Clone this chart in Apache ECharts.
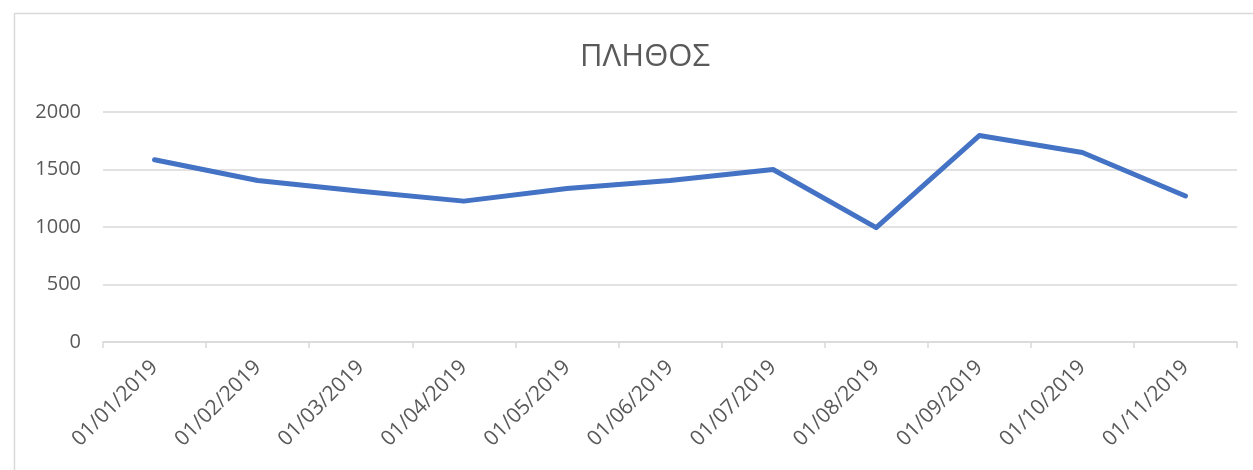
<!DOCTYPE html>
<html>
<head>
<meta charset="utf-8">
<script src="https://cdn.jsdelivr.net/npm/echarts@6/dist/echarts.min.js"></script>
<style>
  html, body { margin: 0; padding: 0; background: #fff; }
  #chart { width: 1253px; height: 470px; }
</style>
</head>
<body>
<div id="chart"></div>
<script>
'use strict';

var titleText = 'ΠΛΗΘΟΣ';
var dates = ['01/01/2019', '01/02/2019', '01/03/2019', '01/04/2019', '01/05/2019', '01/06/2019',
             '01/07/2019', '01/08/2019', '01/09/2019', '01/10/2019', '01/11/2019'];
var counts = [1585, 1405, 1310, 1225, 1335, 1405, 1500, 995, 1795, 1648, 1270];

var grey = '#595959';
var gridGrey = '#d9d9d9';

var myChart = echarts.init(document.getElementById('chart'));

var option = {
    animation: false,
    textStyle: { fontFamily: 'Open Sans' },
    // chart frame like excel
    graphic: [{
        type: 'rect',
        shape: { x: 14.5, y: 13.5, width: 1260, height: 480 },
        style: { fill: 'none', stroke: gridGrey, lineWidth: 1.5 },
        silent: true
    }],
    title: {
        text: titleText,
        left: 640,
        top: 37,
        textAlign: 'center',
        textStyle: { color: grey, fontSize: 31, fontWeight: 'normal', fontFamily: 'Open Sans' }
    },
    grid: { left: 103, right: 16, top: 112, bottom: 128, containLabel: false },
    xAxis: {
        type: 'category',
        data: dates,
        boundaryGap: true,
        axisLine: { lineStyle: { color: gridGrey, width: 1.5 } },
        axisTick: { show: true, length: 6, lineStyle: { color: gridGrey, width: 1.5 } },
        axisLabel: { rotate: 45, margin: 22, color: grey, fontSize: 21, interval: 0 }
    },
    yAxis: {
        type: 'value',
        min: 0,
        max: 2000,
        interval: 500,
        axisLine: { show: false },
        axisTick: { show: false },
        axisLabel: {
            color: grey, fontSize: 20, margin: 22,
            formatter: function (v) { return String(v); }
        },
        splitLine: { lineStyle: { color: gridGrey, width: 1.5 } }
    },
    series: [{
        name: titleText,
        type: 'line',
        data: counts,
        symbol: 'none',
        lineStyle: { color: '#4472C4', width: 5, cap: 'round', join: 'round' }
    }]
};

myChart.setOption(option);
</script>
</body>
</html>
